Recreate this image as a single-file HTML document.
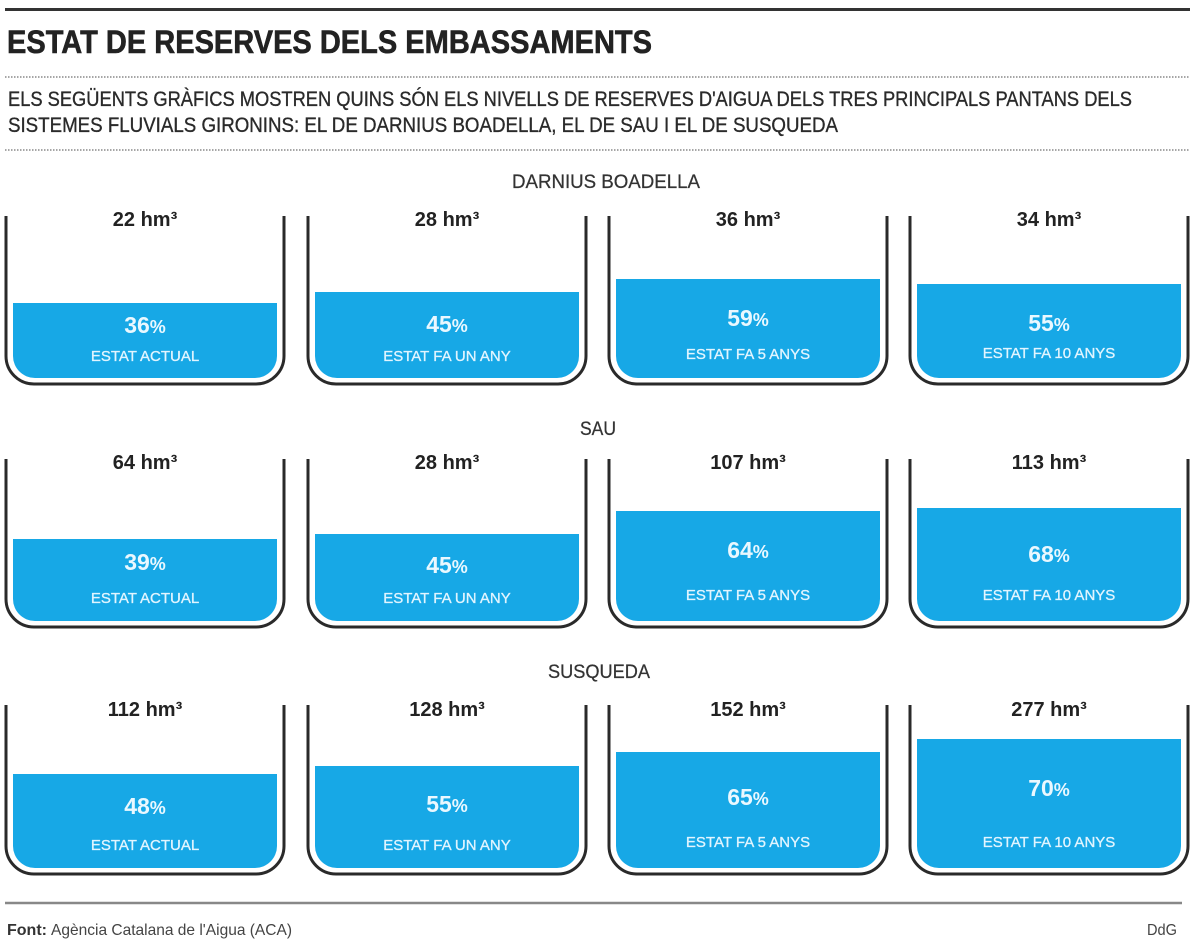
<!DOCTYPE html>
<html><head><meta charset="utf-8"><style>
html,body{margin:0;padding:0;background:#fff;}
svg{display:block;}
text{font-family:"Liberation Sans",sans-serif;}
</style></head><body>
<svg width="1200" height="946" viewBox="0 0 1200 946" xmlns="http://www.w3.org/2000/svg">
<rect width="1200" height="946" fill="#fff"/>
<!-- header -->
<line x1="5" y1="9.5" x2="1190" y2="9.5" stroke="#333" stroke-width="3"/>
<text x="7" y="53" font-size="32" font-weight="bold" fill="#222" stroke="#222" stroke-width="0.6" textLength="645" lengthAdjust="spacingAndGlyphs">ESTAT DE RESERVES DELS EMBASSAMENTS</text>
<line x1="5" y1="77" x2="1190" y2="77" stroke="#888" stroke-width="1.5" stroke-dasharray="1.5 1.5"/>
<text x="8" y="106" font-size="21" fill="#2a2a2a" stroke="#2a2a2a" stroke-width="0.35" textLength="1124" lengthAdjust="spacingAndGlyphs">ELS SEGÜENTS GRÀFICS MOSTREN QUINS SÓN ELS NIVELLS DE RESERVES D'AIGUA DELS TRES PRINCIPALS PANTANS DELS</text>
<text x="8" y="132" font-size="21" fill="#2a2a2a" stroke="#2a2a2a" stroke-width="0.35" textLength="830" lengthAdjust="spacingAndGlyphs">SISTEMES FLUVIALS GIRONINS: EL DE DARNIUS BOADELLA, EL DE SAU I EL DE SUSQUEDA</text>
<line x1="5" y1="150" x2="1190" y2="150" stroke="#888" stroke-width="1.5" stroke-dasharray="1.5 1.5"/>

<!-- section titles -->
<text x="512" y="188" font-size="19" fill="#333" stroke="#333" stroke-width="0.25" textLength="188" lengthAdjust="spacingAndGlyphs">DARNIUS BOADELLA</text>
<text x="580" y="435" font-size="19" fill="#333" stroke="#333" stroke-width="0.25" textLength="36" lengthAdjust="spacingAndGlyphs">SAU</text>
<text x="548" y="678" font-size="19" fill="#333" stroke="#333" stroke-width="0.25" textLength="102" lengthAdjust="spacingAndGlyphs">SUSQUEDA</text>

<g id="bowls" fill="none" stroke="#2a2a2a" stroke-width="3">
<!-- row 1 -->
<path d="M6,216 V356 A28,28 0 0 0 34,384 H256 A28,28 0 0 0 284,356 V216"/>
<path d="M308,216 V356 A28,28 0 0 0 336,384 H558 A28,28 0 0 0 586,356 V216"/>
<path d="M609,216 V356 A28,28 0 0 0 637,384 H859 A28,28 0 0 0 887,356 V216"/>
<path d="M910,216 V356 A28,28 0 0 0 938,384 H1160 A28,28 0 0 0 1188,356 V216"/>
<!-- row 2 -->
<path d="M6,459 V599 A28,28 0 0 0 34,627 H256 A28,28 0 0 0 284,599 V459"/>
<path d="M308,459 V599 A28,28 0 0 0 336,627 H558 A28,28 0 0 0 586,599 V459"/>
<path d="M609,459 V599 A28,28 0 0 0 637,627 H859 A28,28 0 0 0 887,599 V459"/>
<path d="M910,459 V599 A28,28 0 0 0 938,627 H1160 A28,28 0 0 0 1188,599 V459"/>
<!-- row 3 -->
<path d="M6,705 V846 A28,28 0 0 0 34,874 H256 A28,28 0 0 0 284,846 V705"/>
<path d="M308,705 V846 A28,28 0 0 0 336,874 H558 A28,28 0 0 0 586,846 V705"/>
<path d="M609,705 V846 A28,28 0 0 0 637,874 H859 A28,28 0 0 0 887,846 V705"/>
<path d="M910,705 V846 A28,28 0 0 0 938,874 H1160 A28,28 0 0 0 1188,846 V705"/>
</g>

<g fill="#17a8e6">
<!-- row 1 fills, bottom 378 -->
<path d="M13,303 H277 V356 A22,22 0 0 1 255,378 H35 A22,22 0 0 1 13,356 Z"/>
<path d="M315,292 H579 V356 A22,22 0 0 1 557,378 H337 A22,22 0 0 1 315,356 Z"/>
<path d="M616,279 H880 V356 A22,22 0 0 1 858,378 H638 A22,22 0 0 1 616,356 Z"/>
<path d="M917,284 H1181 V356 A22,22 0 0 1 1159,378 H939 A22,22 0 0 1 917,356 Z"/>
<!-- row 2 fills, bottom 621 -->
<path d="M13,539 H277 V599 A22,22 0 0 1 255,621 H35 A22,22 0 0 1 13,599 Z"/>
<path d="M315,534 H579 V599 A22,22 0 0 1 557,621 H337 A22,22 0 0 1 315,599 Z"/>
<path d="M616,511 H880 V599 A22,22 0 0 1 858,621 H638 A22,22 0 0 1 616,599 Z"/>
<path d="M917,508 H1181 V599 A22,22 0 0 1 1159,621 H939 A22,22 0 0 1 917,599 Z"/>
<!-- row 3 fills, bottom 868 -->
<path d="M13,774 H277 V846 A22,22 0 0 1 255,868 H35 A22,22 0 0 1 13,846 Z"/>
<path d="M315,766 H579 V846 A22,22 0 0 1 557,868 H337 A22,22 0 0 1 315,846 Z"/>
<path d="M616,752 H880 V846 A22,22 0 0 1 858,868 H638 A22,22 0 0 1 616,846 Z"/>
<path d="M917,739 H1181 V846 A22,22 0 0 1 1159,868 H939 A22,22 0 0 1 917,846 Z"/>
</g>

<!-- volume labels -->
<g font-size="20" font-weight="bold" fill="#222" text-anchor="middle">
<text x="145" y="226">22 hm³</text>
<text x="447" y="226">28 hm³</text>
<text x="748" y="226">36 hm³</text>
<text x="1049" y="226">34 hm³</text>
<text x="145" y="469">64 hm³</text>
<text x="447" y="469">28 hm³</text>
<text x="748" y="469">107 hm³</text>
<text x="1049" y="469">113 hm³</text>
<text x="145" y="716">112 hm³</text>
<text x="447" y="716">128 hm³</text>
<text x="748" y="716">152 hm³</text>
<text x="1049" y="716">277 hm³</text>
</g>

<!-- percentages -->
<g font-size="23" font-weight="bold" fill="#eaf8ff" text-anchor="middle">
<text x="145" y="333">36<tspan font-size="18">%</tspan></text>
<text x="447" y="332">45<tspan font-size="18">%</tspan></text>
<text x="748" y="326">59<tspan font-size="18">%</tspan></text>
<text x="1049" y="331">55<tspan font-size="18">%</tspan></text>
<text x="145" y="570">39<tspan font-size="18">%</tspan></text>
<text x="447" y="573">45<tspan font-size="18">%</tspan></text>
<text x="748" y="558">64<tspan font-size="18">%</tspan></text>
<text x="1049" y="562">68<tspan font-size="18">%</tspan></text>
<text x="145" y="814">48<tspan font-size="18">%</tspan></text>
<text x="447" y="812">55<tspan font-size="18">%</tspan></text>
<text x="748" y="805">65<tspan font-size="18">%</tspan></text>
<text x="1049" y="796">70<tspan font-size="18">%</tspan></text>
</g>

<!-- state labels -->
<g font-size="15" fill="#e2f5ff" stroke="#e2f5ff" stroke-width="0.3" text-anchor="middle">
<text x="145" y="361">ESTAT ACTUAL</text>
<text x="447" y="361">ESTAT FA UN ANY</text>
<text x="748" y="359">ESTAT FA 5 ANYS</text>
<text x="1049" y="358">ESTAT FA 10 ANYS</text>
<text x="145" y="603">ESTAT ACTUAL</text>
<text x="447" y="603">ESTAT FA UN ANY</text>
<text x="748" y="600">ESTAT FA 5 ANYS</text>
<text x="1049" y="600">ESTAT FA 10 ANYS</text>
<text x="145" y="850">ESTAT ACTUAL</text>
<text x="447" y="850">ESTAT FA UN ANY</text>
<text x="748" y="847">ESTAT FA 5 ANYS</text>
<text x="1049" y="847">ESTAT FA 10 ANYS</text>
</g>

<!-- footer -->
<line x1="5" y1="903" x2="1182" y2="903" stroke="#888" stroke-width="2.5"/>
<text x="7" y="935" font-size="16" font-weight="bold" fill="#333" textLength="40" lengthAdjust="spacingAndGlyphs">Font:</text>
<text x="51" y="935" font-size="16" fill="#444" textLength="241" lengthAdjust="spacingAndGlyphs">Agència Catalana de l'Aigua (ACA)</text>
<text x="1147" y="935" font-size="16" fill="#444" textLength="30" lengthAdjust="spacingAndGlyphs">DdG</text>
</svg>
</body></html>
